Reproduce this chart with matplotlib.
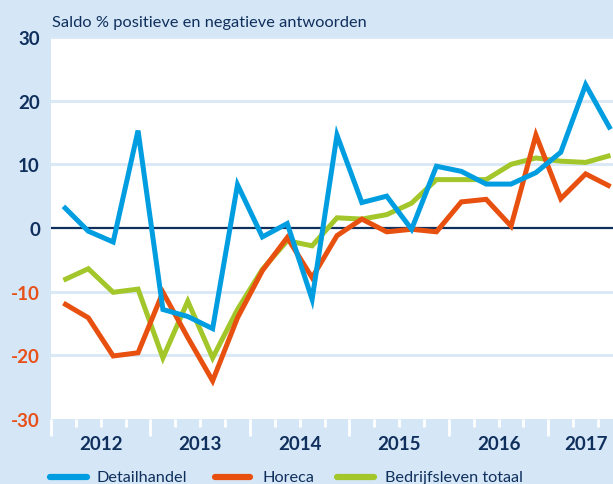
import matplotlib
matplotlib.use("Agg")
import matplotlib.pyplot as plt
from matplotlib.lines import Line2D
import numpy as np

# Quarterly data 2012Q1 .. 2017Q3
quarters = ["2012Q1", "2012Q2", "2012Q3", "2012Q4",
            "2013Q1", "2013Q2", "2013Q3", "2013Q4",
            "2014Q1", "2014Q2", "2014Q3", "2014Q4",
            "2015Q1", "2015Q2", "2015Q3", "2015Q4",
            "2016Q1", "2016Q2", "2016Q3", "2016Q4",
            "2017Q1", "2017Q2", "2017Q3"]
detailhandel = [3.4, -0.5, -2.2, 15.3, -12.8, -13.9, -15.8, 6.8,
                -1.4, 0.7, -11.2, 14.6, 4.0, 5.0, -0.2, 9.7,
                8.9, 6.9, 6.9, 8.7, 11.9, 22.5, 15.5]
horeca = [-11.8, -14.1, -20.1, -19.6, -10.1, -17.2, -24.0, -14.1,
          -6.7, -1.5, -7.8, -1.2, 1.4, -0.6, -0.2, -0.6,
          4.1, 4.5, 0.3, 14.6, 4.6, 8.5, 6.5]
bedrijfsleven = [-8.2, -6.4, -10.1, -9.6, -20.4, -11.5, -20.4, -12.8,
                 -6.5, -2.0, -2.8, 1.6, 1.4, 2.1, 3.9, 7.6,
                 7.6, 7.6, 10.0, 11.0, 10.5, 10.3, 11.4]
years = ["2012", "2013", "2014", "2015", "2016", "2017"]
yticks = [-30, -20, -10, 0, 10, 20, 30]
series_names = ["Detailhandel", "Horeca", "Bedrijfsleven totaal"]

BG = "#d5e6f7"
GRID = "#dbe9f7"
NAVY = "#0f2f5c"
RED = "#e8501a"
BLUE = "#009ee0"
ORANGE = "#e8500f"
GREEN = "#a3c72a"
FONT = "Lato"

fig = plt.figure(figsize=(6.13, 4.85), dpi=100, facecolor=BG)
ax = fig.add_axes([51/613, (485-420)/485, 562/613, 382/485])
ax.set_facecolor("white")

x = np.arange(len(quarters))
lw = 3.6
ax.plot(x, bedrijfsleven, color=GREEN, lw=lw, solid_joinstyle="miter", solid_capstyle="butt", zorder=3)
ax.plot(x, horeca, color=ORANGE, lw=lw, solid_joinstyle="miter", solid_capstyle="butt", zorder=4)
ax.plot(x, detailhandel, color=BLUE, lw=lw, solid_joinstyle="miter", solid_capstyle="butt", zorder=5)

ax.set_ylim(-30, 30)
ax.set_xlim(-0.5, 22.1)

for v in yticks:
    if v == 0:
        ax.axhline(0, color=NAVY, lw=1.6, zorder=2)
    elif v != -30:
        ax.axhline(v, color=GRID, lw=2.2, zorder=1)

for s in ax.spines.values():
    s.set_visible(False)

# x ticks: quarter boundaries (white, below axis)
minor = np.arange(-0.5, 22.1, 1.0)
major = np.arange(-0.5, 22.1, 4.0)
ax.set_xticks(major)
ax.set_xticks(minor, minor=True)
ax.set_xticklabels([])
ax.tick_params(axis="x", which="major", direction="out", length=12, width=2, color="white")
ax.tick_params(axis="x", which="minor", direction="out", length=6, width=2, color="white")

year_pos = [1.5, 5.5, 9.5, 13.5, 17.5, 21.0]
for p, yl in zip(year_pos, years):
    ax.text(p, -33.8, yl, ha="center", va="center", fontsize=13.5, fontweight="bold",
            color=NAVY, family=FONT, clip_on=False)

ax.set_yticks(yticks)
ax.set_yticklabels([str(v) for v in yticks])
ax.tick_params(axis="y", length=0, pad=8)
for lab, v in zip(ax.get_yticklabels(), yticks):
    lab.set_fontsize(13.5)
    lab.set_fontweight("bold")
    lab.set_family(FONT)
    lab.set_color(RED if v < 0 else NAVY)

fig.text(52/613, 1 - 23/485, "Saldo % positieve en negatieve antwoorden", ha="left", va="center",
         fontsize=11.8, color=NAVY, family=FONT)

# legend
leg_y = 1 - 478/485
legend_items = [(50, 87, 97, BLUE), (215, 250, 262, ORANGE), (337, 374, 385, GREEN)]
for (x0, x1, tx, c), name in zip(legend_items, series_names):
    fig.add_artist(Line2D([x0/613, x1/613], [leg_y, leg_y], color=c, lw=4.5,
                          solid_capstyle="round", transform=fig.transFigure))
    fig.text(tx/613, leg_y, name, ha="left", va="center", fontsize=11.7, color=NAVY, family=FONT)

fig.savefig("out.png", dpi=100, facecolor=BG)
